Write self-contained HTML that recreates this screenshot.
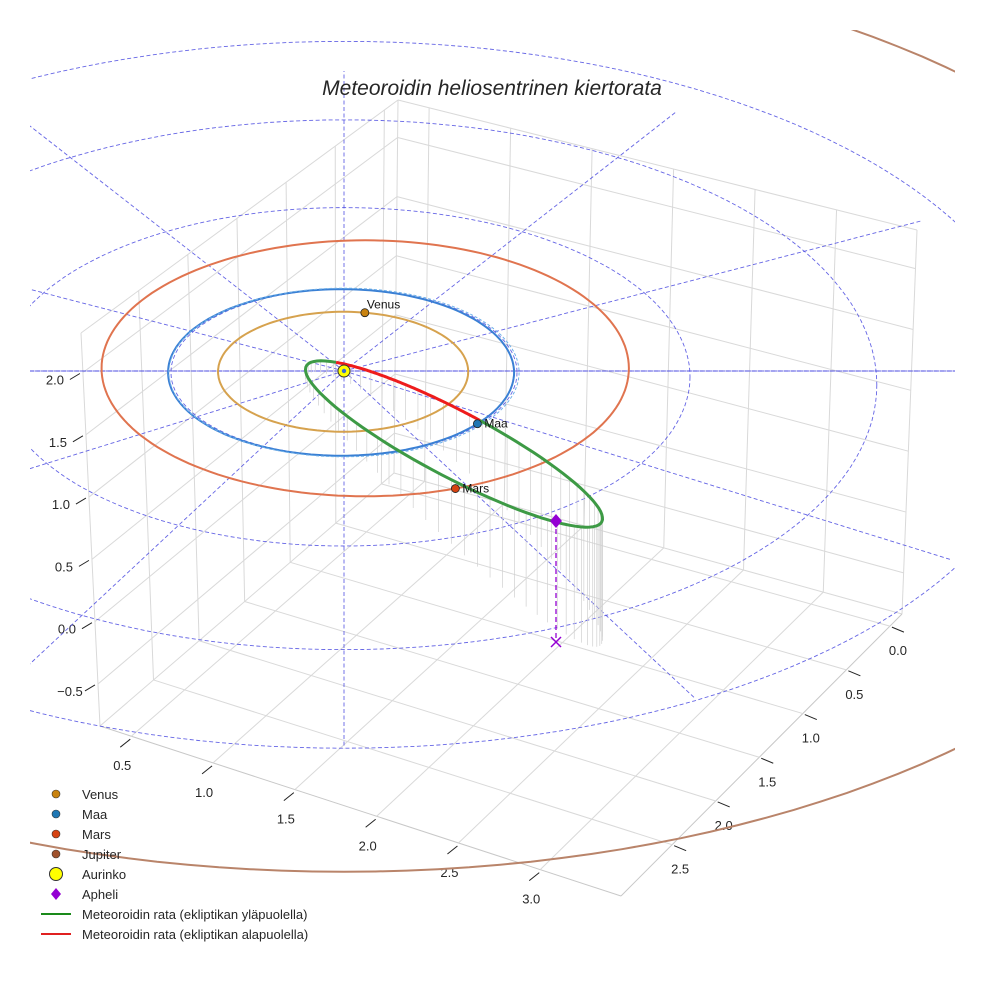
<!DOCTYPE html>
<html><head><meta charset="utf-8">
<style>
html,body{margin:0;padding:0;background:#fff;}
svg{display:block;font-family:"Liberation Sans",sans-serif;}
</style></head>
<body>
<svg id="chart" width="984" height="984" viewBox="0 0 984 984">
<defs><clipPath id="plotclip"><rect x="30" y="30" width="925" height="925"/></clipPath></defs>
<g id="box"></g>
<g id="rings" clip-path="url(#plotclip)"></g>
<g id="stems"></g>
<g id="orbits" clip-path="url(#plotclip)"></g>
<g id="meteor"></g>
<g id="marks"></g>
<text x="492" y="95" text-anchor="middle" font-size="21" font-style="italic" fill="#262626">Meteoroidin heliosentrinen kiertorata</text>
<g id="legend"></g>
</svg>
<script>
// ---- data ----
const xTicks = [0.5, 1.0, 1.5, 2.0, 2.5, 3.0];
const yTicks = [0.0, 0.5, 1.0, 1.5, 2.0, 2.5];
const zTicks = [-0.5, 0.0, 0.5, 1.0, 1.5, 2.0];
const planetNames = ["Venus", "Maa", "Mars"];
const planetRadii = [0.723, 1.0, 1.524];
const planetEcc = [0.007, 0.017, 0.093];
const planetPeriLon = [0, 0, 150];
const planetAngles = [-80, 38, 70];
const jupiterRadius = [5.2];
const gridRingRadii = [1, 2, 3.08, 4.05];
const gridRayAngles = [0, 30, 60, 90, 120, 150, 180, 210, 240, 270, 300, 330];
const meteorSemiMajor = [167];
const meteorSemiMinor = [33];
const meteorTilt = [27.8];
const meteorCenter = [454, 444];
const apheliBase = [556, 521];
const apheliDrop = [121];

const NS = "http://www.w3.org/2000/svg";
function mk(parent, tag, attrs) {
  const e = document.createElementNS(NS, tag);
  for (const k in attrs) e.setAttribute(k, attrs[k]);
  parent.appendChild(e);
  return e;
}
const $ = id => document.getElementById(id);

// ---- 3D box geometry (pixel layout) ----
const A = [100, 726], B = [621, 896], C = [902, 614], D = [394, 473];
const HA = 393, HB = 400, HC = 384, HD = 373;
const TA = -19, TB = -6, TC = 15, TD = 4;
function floorPt(fx, fy) {
  const w = [(1 - fx) * (1 - fy), fx * (1 - fy), (1 - fx) * fy, fx * fy];
  return [D[0] * w[0] + C[0] * w[1] + A[0] * w[2] + B[0] * w[3],
          D[1] * w[0] + C[1] * w[1] + A[1] * w[2] + B[1] * w[3],
          HD * w[0] + HC * w[1] + HA * w[2] + HB * w[3],
          TD * w[0] + TC * w[1] + TA * w[2] + TB * w[3]];
}
function pt3(fx, fy, fz) { const p = floorPt(fx, fy); return [p[0] + fz * p[3], p[1] - fz * p[2]]; }
const fxOf = v => 0.06 + (v - 0.5) / 0.5 * 0.157;
const fyOf = v => 0.043 + v / 0.5 * 0.155;
const fzOf = v => 0.107 + (v + 0.5) / 0.5 * 0.1585;

const box = $("box");
function gline(p, q, name, col, w) {
  const l = mk(box, "line", {x1: p[0], y1: p[1], x2: q[0], y2: q[1], stroke: col || "#d9d9d9", "stroke-width": w || 1});
  
  
}
gline(pt3(0,0,0), pt3(0,0,1), "box-edge");
gline(pt3(0,1,0), pt3(0,1,1), "box-edge");
gline(pt3(1,0,0), pt3(1,0,1), "box-edge");
gline(pt3(0,0,1), pt3(0,1,1), "box-edge");
gline(pt3(0,0,1), pt3(1,0,1), "box-edge");
gline(pt3(0,0,0), pt3(0,1,0), "box-edge");
gline(pt3(0,0,0), pt3(1,0,0), "box-edge");
gline(pt3(0,1,0), pt3(1,1,0), "box-edge", "#c8c8c8");
gline(pt3(1,0,0), pt3(1,1,0), "box-edge", "#c8c8c8");
xTicks.forEach(v => {
  const f = fxOf(v);
  gline(pt3(f,0,0), pt3(f,1,0), "floor-grid-x");
  gline(pt3(f,0,0), pt3(f,0,1), "wall-grid-x");
  const p = pt3(f,1,0);
  gline([p[0]-1, p[1]+3], [p[0]-11, p[1]+11], "x-tick", "#222", 1);
  const t = mk(box, "text", {x: p[0]-9, y: p[1]+34, "text-anchor": "middle", "font-size": 13, fill: "#262626"});
  t.textContent = v.toFixed(1);
  
  
});
yTicks.forEach(v => {
  const f = fyOf(v);
  gline(pt3(0,f,0), pt3(1,f,0), "floor-grid-y");
  gline(pt3(0,f,0), pt3(0,f,1), "wall-grid-y");
  const p = pt3(1,f,0);
  gline([p[0]+2, p[1]+1], [p[0]+14, p[1]+6], "y-tick", "#222", 1);
  const t = mk(box, "text", {x: p[0]+8, y: p[1]+29, "text-anchor": "middle", "font-size": 13, fill: "#262626"});
  t.textContent = v.toFixed(1);
  
  
});
zTicks.forEach(v => {
  const f = fzOf(v);
  gline(pt3(0,0,f), pt3(0,1,f), "wall-grid-z");
  gline(pt3(0,0,f), pt3(1,0,f), "wall-grid-z");
  const p = pt3(0,1,f);
  gline([p[0]-3, p[1]+1], [p[0]-13, p[1]+7], "z-tick", "#222", 1);
  const t = mk(box, "text", {x: p[0]-28, y: p[1]+12, "text-anchor": "middle", "font-size": 13, fill: "#262626"});
  t.textContent = (v < 0 ? "\u2212" : "") + Math.abs(v).toFixed(1);
  
  
});

// ---- ecliptic projection (with perspective growth) ----
const SUN = [344, 371];
function eclip(r, deg, ox, oy) {
  const a = deg * Math.PI / 180;
  return [SUN[0] + 173 * ((ox || 0) + r * Math.cos(a)),
          SUN[1] + 86 * (oy || 0) + 1.45 * r * r + r * (82 + 1.3 * r) * Math.sin(a)];
}
function ringPath(r, ox, oy) {
  let d = "";
  for (let k = 0; k <= 360; k += 2) { const p = eclip(r, k, ox, oy); d += (k ? "L" : "M") + p[0].toFixed(1) + " " + p[1].toFixed(1); }
  return d + "Z";
}
const rings = $("rings");
gridRingRadii.forEach(r => {
  const e = mk(rings, "path", {d: ringPath(r), fill: "none", stroke: "#4a4ae0", "stroke-width": 0.9, "stroke-dasharray": "4 2.5", opacity: 0.85});
  
  
});
gridRayAngles.forEach(a => {
  const rad = a * Math.PI / 180;
  const up = Math.sin(rad) < -0.01;
  const r = up ? 3.85 : gridRingRadii[3];
  const x2 = SUN[0] + 173 * r * Math.cos(rad);
  const y2 = SUN[1] + (up ? 300 * Math.sin(rad) : (r * (82 + 1.3 * r) + 1.45 * r * r) * Math.sin(rad));
  const e = mk(rings, "line", {x1: SUN[0], y1: SUN[1], x2: x2, y2: y2, stroke: "#4a4ae0", "stroke-width": 0.9, "stroke-dasharray": "4 2.5", opacity: 0.85});
  
  
});
const hz = mk(rings, "line", {x1: 30, y1: SUN[1], x2: 955, y2: SUN[1], stroke: "#4a4ae0", "stroke-width": 0.9, "stroke-dasharray": "4 2.5"});



// ---- meteoroid orbit points ----
const ma = meteorSemiMajor[0], mb = meteorSemiMinor[0], mt = meteorTilt[0] * Math.PI / 180;
function meteorPt(t) {
  const u = ma * Math.cos(t), v = mb * Math.sin(t);
  return [meteorCenter[0] + u * Math.cos(mt) - v * Math.sin(mt),
          meteorCenter[1] + u * Math.sin(mt) + v * Math.cos(mt), u];
}
const stems = $("stems");
for (let k = 0; k < 72; k++) {
  const p = meteorPt(k / 72 * 2 * Math.PI);
  const L = 10 + Math.pow((p[2] + ma) / (2 * ma), 1.2) * 112;
  const s = mk(stems, "line", {x1: p[0], y1: p[1], x2: p[0], y2: p[1] + L, stroke: "#d0d0d0", "stroke-width": 0.7});
  
  
}

// ---- planet orbits ----
const orbits = $("orbits");
const orbitColors = ["#d6a24e", "#3a80d4", "#e0744f"];
function centerOff(i) {
  const w = planetPeriLon[i] * Math.PI / 180, c = planetRadii[i] * planetEcc[i];
  return [-c * Math.cos(w), -c * Math.sin(w)];
}
planetRadii.forEach((r, i) => {
  const o = centerOff(i);
  const e = mk(orbits, "path", {d: ringPath(r, o[0], o[1]), fill: "none", stroke: orbitColors[i], "stroke-width": 2});
  
  
});
const eo = mk(orbits, "path", {d: ringPath(planetRadii[1] * 1.012), fill: "none", stroke: "#6fb0e8", "stroke-width": 1, "stroke-dasharray": "3 2"});


const jp = mk(orbits, "path", {d: ringPath(jupiterRadius[0]), fill: "none", stroke: "#b9846a", "stroke-width": 2});



// ---- meteoroid path: green (above) / red (below) ----
const met = $("meteor");
function arcPath(t0, t1) {
  let d = "";
  const n = 80;
  for (let k = 0; k <= n; k++) { const p = meteorPt(t0 + (t1 - t0) * k / n); d += (k ? "L" : "M") + p[0].toFixed(1) + " " + p[1].toFixed(1); }
  return d;
}
const redStart = Math.PI + 0.55, redEnd = 2 * Math.PI - 1.5;
const g1 = mk(met, "path", {d: arcPath(redEnd, redStart + 2 * Math.PI), fill: "none", stroke: "#3d9a45", "stroke-width": 3});


const r1 = mk(met, "path", {d: arcPath(redStart, redEnd), fill: "none", stroke: "#ee1c1c", "stroke-width": 3});


const dl = mk(met, "line", {x1: apheliBase[0], y1: apheliBase[1], x2: apheliBase[0], y2: apheliBase[1] + apheliDrop[0], stroke: "#9400d3", "stroke-width": 1.3, "stroke-dasharray": "5 3"});



// ---- markers ----
const marks = $("marks");
const markerColors = ["#c98310", "#1f77b4", "#d64312"];
planetRadii.forEach((r, i) => {
  const o = centerOff(i);
  const p = eclip(r, planetAngles[i], o[0], o[1]);
  const c = mk(marks, "circle", {cx: p[0], cy: p[1], r: 4, fill: markerColors[i], stroke: "#222", "stroke-width": 0.8});
  
  
  const t = mk(marks, "text", {x: p[0] + (i === 0 ? 2 : 7), y: p[1] + (i === 0 ? -4 : 4), "font-size": 12, fill: "#111"});
  t.textContent = planetNames[i];
  
  
});
const sun = mk(marks, "circle", {cx: SUN[0], cy: SUN[1], r: 6, fill: "#ffff00", stroke: "#333", "stroke-width": 1});


const sunc = mk(marks, "circle", {cx: SUN[0], cy: SUN[1], r: 2.2, fill: "#3a6fd0"});


const ax = apheliBase[0], ay = apheliBase[1];
const dia = mk(marks, "path", {d: `M${ax} ${ay-7}L${ax+6} ${ay}L${ax} ${ay+7}L${ax-6} ${ay}Z`, fill: "#9400d3"});


const xy = ay + apheliDrop[0];
const xm = mk(marks, "path", {d: `M${ax-5} ${xy-5}L${ax+5} ${xy+5}M${ax+5} ${xy-5}L${ax-5} ${xy+5}`, stroke: "#9400d3", "stroke-width": 1.5});



// ---- legend ----
const legendLabels = ["Venus", "Maa", "Mars", "Jupiter", "Aurinko", "Apheli",
  "Meteoroidin rata (ekliptikan yläpuolella)", "Meteoroidin rata (ekliptikan alapuolella)"];
const legendKinds = ["dot", "dot", "dot", "dot", "sun", "diamond", "line", "line"];
const legendColors = ["#c98310", "#1f77b4", "#d64312", "#a0522d", "#ffff00", "#9400d3", "#1a8a1a", "#e02020"];
const leg = $("legend");
legendLabels.forEach((lab, i) => {
  const y = 794 + i * 20;
  const g = mk(leg, "g", {});
  
  
  const k = legendKinds[i];
  if (k === "dot") mk(g, "circle", {cx: 56, cy: y, r: 4, fill: legendColors[i], stroke: "#333", "stroke-width": 0.6});
  else if (k === "sun") mk(g, "circle", {cx: 56, cy: y, r: 6.5, fill: legendColors[i], stroke: "#333", "stroke-width": 1});
  else if (k === "diamond") mk(g, "path", {d: `M56 ${y-6}L61 ${y}L56 ${y+6}L51 ${y}Z`, fill: legendColors[i]});
  else mk(g, "line", {x1: 41, y1: y, x2: 71, y2: y, stroke: legendColors[i], "stroke-width": 2});
  const t = mk(g, "text", {x: 82, y: y + 5, "font-size": 13, fill: "#262626"});
  t.textContent = lab;
});
</script>
</body></html>
